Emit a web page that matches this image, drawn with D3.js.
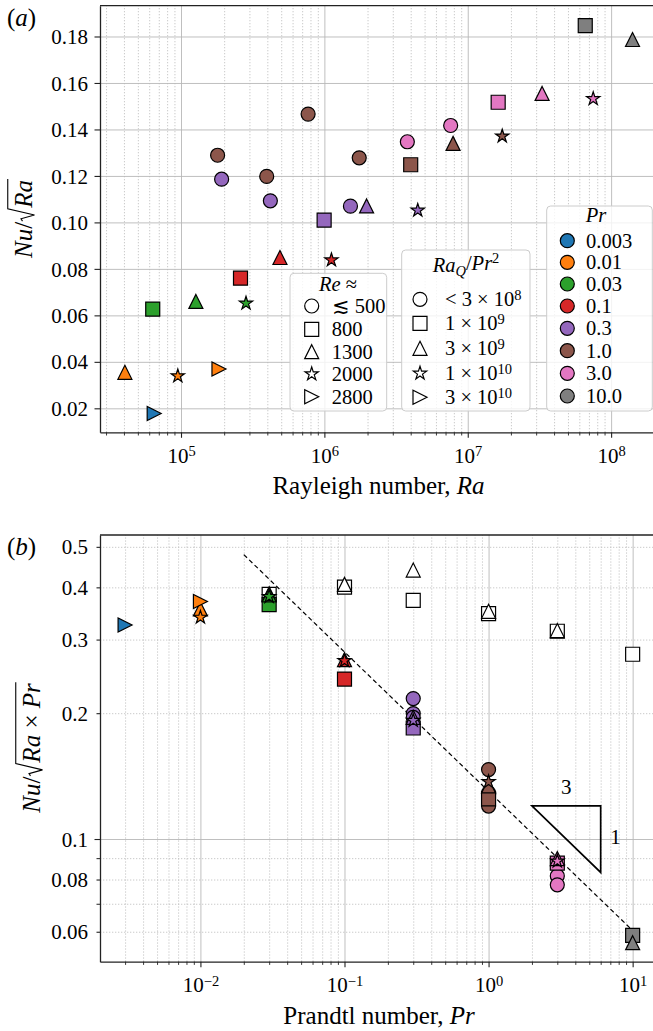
<!DOCTYPE html>
<html><head><meta charset="utf-8">
<script src="https://cdn.jsdelivr.net/npm/d3@7"></script>
<style>
html,body{margin:0;padding:0;background:#fff;}
svg{display:block;}
svg text{white-space:pre;font-family:"Liberation Serif","Times New Roman","DejaVu Serif",serif;}
</style></head><body>
<svg id="fig" width="653" height="1031"></svg>
<script>
// ---------------- data ----------------
const prLevels = [0.003, 0.01, 0.03, 0.1, 0.3, 1.0, 3.0, 10.0];
const prLabels = ["0.003", "0.01", "0.03", "0.1", "0.3", "1.0", "3.0", "10.0"];
const prColors = ["#1f77b4", "#ff7f0e", "#2ca02c", "#d62728", "#9467bd", "#8c564b", "#e377c2", "#7f7f7f"];
const shapeKeys = ["circle", "square", "triangle", "star", "right"];
const reLabels = ["\u2272 500", "800", "1300", "2000", "2800"];
const raqMantissa = ["< 3 \u00d7 10", "1 \u00d7 10", "3 \u00d7 10", "1 \u00d7 10", "3 \u00d7 10"];
const raqExponent = ["8", "9", "9", "10", "10"];

// panel (a): Nu/sqrt(Ra) vs Ra
const aShape = ["circle","circle","circle","circle","circle","circle","circle","circle","circle",
  "square","square","square","square","square","square",
  "triangle","triangle","triangle","triangle","triangle","triangle","triangle",
  "star","star","star","star","star","star",
  "right","right"];
const aPr = [1.0,1.0,0.3,1.0,0.3,1.0,0.3,3.0,3.0,
  0.3,10.0,3.0,1.0,0.1,0.03,
  0.3,10.0,3.0,1.0,0.1,0.03,0.01,
  3.0,1.0,0.3,0.1,0.03,0.01,
  0.01,0.003];
const aRa = [7.7e5,1.8e5,1.92e5,3.96e5,4.2e5,1.75e6,1.52e6,7.6e6,3.79e6,
  9.96e5,6.6e7,1.63e7,4.0e6,2.6e5,6.35e4,
  1.97e6,1.41e8,3.3e7,7.9e6,4.9e5,1.27e5,4.06e4,
  7.5e7,1.74e7,4.48e6,1.12e6,2.84e5,9.5e4,
  1.84e5,6.5e4];
const aNu = [0.1466,0.1289,0.1186,0.1198,0.1093,0.1278,0.1070,0.1417,0.1347,
  0.1010,0.1847,0.1517,0.1248,0.0760,0.0627,
  0.1071,0.1787,0.1555,0.1340,0.0849,0.0660,0.0355,
  0.1532,0.1371,0.1052,0.0838,0.0652,0.0339,
  0.0369,0.0178];

// panel (b): Nu/sqrt(Ra*Pr) vs Pr, filled symbols
const bShape = ["circle","circle","circle","circle","circle","circle","circle","circle","circle",
  "square","square","square","square","square","square",
  "triangle","triangle","triangle","triangle","triangle","triangle","triangle",
  "star","star","star","star","star","star",
  "right","right"];
const bPr = [0.3,0.3,0.3,1.0,1.0,1.0,1.0,3.0,3.0,
  0.3,10.0,3.0,1.0,0.1,0.03,
  0.3,10.0,3.0,1.0,0.1,0.03,0.01,
  3.0,1.0,0.3,0.1,0.03,0.01,
  0.01,0.003];
const bNu = [0.2168,0.1996,0.1954,0.1466,0.1289,0.1199,0.1278,0.0816,0.0777,
  0.1843,0.0588,0.0876,0.1248,0.2414,0.3635,
  0.1955,0.0565,0.0898,0.1340,0.2685,0.3837,0.355,
  0.0885,0.1371,0.1920,0.2670,0.3800,0.339,
  0.3700,0.3250];
// panel (b): open symbols
const oShape = ["square","square","square","square","square","square",
  "triangle","triangle","triangle","triangle","triangle"];
const oPr = [0.03,0.1,0.3,1.0,3.0,10.0, 0.03,0.1,0.3,1.0,3.0];
const oNu = [0.3849,0.4004,0.3724,0.3462,0.3141,0.2767, 0.386,0.4066,0.4400,0.3505,0.3153];
// Pr^(-1/3) guide line and slope triangle
const fitPr = [0.02, 10];
const fitNu = [0.479, 0.0604];
const triPr = [2, 6, 6];
const triNu = [0.12, 0.12, 0.0832];

// tick labels
const aYTicks = [0.02,0.04,0.06,0.08,0.10,0.12,0.14,0.16,0.18];
const aYLabels = ["0.02","0.04","0.06","0.08","0.10","0.12","0.14","0.16","0.18"];
const aXTicks = [1e5,1e6,1e7,1e8];
const aXExp = ["5","6","7","8"];
const bXTicks = [1e-2,1e-1,1e0,1e1];
const bXExp = ["\u22122","\u22121","0","1"];
const bYTicks = [0.06,0.08,0.1,0.2,0.3,0.4,0.5];
const bYLabels = ["0.06","0.08","0.1","0.2","0.3","0.4","0.5"];
const bYMinorOnly = [0.07,0.09];

// ---------------- drawing ----------------
const svg = d3.select("#fig");
const S = 14;
const colorOf = pr => prColors[prLevels.indexOf(pr)];

function markerPath(shape, s) {
  const h = s / 2;
  if (shape === "circle") { const p = d3.path(); p.moveTo(h, 0); p.arc(0, 0, h, 0, 2 * Math.PI); p.closePath(); return p.toString(); }
  if (shape === "square") return `M${-h},${-h}H${h}V${h}H${-h}Z`;
  if (shape === "triangle") return `M0,${-h}L${h},${h}L${-h},${h}Z`;
  if (shape === "right") return `M${h},0L${-h},${h}L${-h},${-h}Z`;
  let d = "";
  for (let i = 0; i < 10; i++) {
    const r = i % 2 ? h * 0.381966 : h;
    const a = -Math.PI / 2 + i * Math.PI / 5;
    d += (i ? "L" : "M") + (r * Math.cos(a)).toFixed(2) + "," + (r * Math.sin(a)).toFixed(2);
  }
  return d + "Z";
}

const A = {l: 100, r: 657, t: 5.7, b: 432.3};
const B = {l: 100, r: 658, t: 535, b: 961.7};
const xA = d3.scaleLog().domain([10 ** 4.435, 10 ** 8.32]).range([A.l, A.r]);
const yA = d3.scaleLinear().domain([0.00968, 0.19325]).range([A.b, A.t]);
const xB = d3.scaleLog().domain([10 ** -2.697, 10 ** 1.176]).range([B.l, B.r]);
const yB = d3.scaleLog().domain([10 ** -1.2935, 10 ** -0.2727]).range([B.b, B.t]);

function minorLog(scale, n0, n1) {
  const [lo, hi] = scale.domain(); const out = [];
  for (let n = n0; n <= n1; n++) for (let d = 2; d <= 9; d++) { const v = d * 10 ** n; if (v > lo * 1.001 && v < hi) out.push(v); }
  return out;
}
const aXMinor = minorLog(xA, 4, 8);
const bXMinor = minorLog(xB, -3, 1);

const MAJ = {stroke: "#b8b8b8", w: 0.9, dash: null};
const MIN = {stroke: "#bdbdbd", w: 0.8, dash: "1.3,1.7"};
function styleGrid(g, st) {
  g.select(".domain").remove();
  g.selectAll(".tick line").attr("stroke", st.stroke).attr("stroke-width", st.w).attr("stroke-dasharray", st.dash);
}
function vgrid(scale, vals, P, st) {
  svg.append("g").attr("transform", `translate(0,${P.b})`)
    .call(d3.axisBottom(scale).tickValues(vals).tickSize(-(P.b - P.t)).tickFormat(""))
    .call(g => styleGrid(g, st));
}
function hgrid(scale, vals, P, st) {
  svg.append("g").attr("transform", `translate(${P.l},0)`)
    .call(d3.axisLeft(scale).tickValues(vals).tickSize(-(P.r - P.l)).tickFormat(""))
    .call(g => styleGrid(g, st));
}

// grids
vgrid(xA, aXMinor, A, MIN); vgrid(xA, aXTicks, A, MAJ); hgrid(yA, aYTicks, A, MAJ);
vgrid(xB, bXMinor, B, MIN); vgrid(xB, bXTicks, B, MAJ);
hgrid(yB, bYTicks.filter(v => v !== 0.1).concat(bYMinorOnly), B, MIN); hgrid(yB, [0.1], B, MAJ);

// guide line & slope triangle (b)
svg.append("path").datum(d3.zip(fitPr, fitNu))
  .attr("d", d3.line().x(d => xB(d[0])).y(d => yB(d[1])))
  .attr("fill", "none").attr("stroke", "#000").attr("stroke-width", 1.2).attr("stroke-dasharray", "4.5,3");
svg.append("path").datum(d3.zip(triPr, triNu))
  .attr("d", d3.line().x(d => xB(d[0])).y(d => yB(d[1])).curve(d3.curveLinearClosed))
  .attr("fill", "none").attr("stroke", "#000").attr("stroke-width", 1.7).attr("stroke-linejoin", "miter");
svg.append("text").attr("x", xB(3.46)).attr("y", yB(0.1334) + 7).attr("text-anchor", "middle").attr("font-size", 21).text("3");
svg.append("text").attr("x", xB(7.6)).attr("y", yB(0.101) + 7).attr("text-anchor", "middle").attr("font-size", 21).text("1");

// markers
function drawMarkers(shapes, xs, ys, fills, xs_, ys_) {
  svg.append("g").selectAll("path").data(d3.range(shapes.length)).join("path")
    .attr("d", i => markerPath(shapes[i], S))
    .attr("transform", i => `translate(${xs_(xs[i])},${ys_(ys[i])})`)
    .attr("fill", i => fills[i]).attr("stroke", "#000").attr("stroke-width", 1.2).attr("stroke-linejoin", "miter");
}
drawMarkers(aShape, aRa, aNu, aPr.map(colorOf), xA, yA);
drawMarkers(oShape, oPr, oNu, oPr.map(() => "#fff"), xB, yB);
drawMarkers(bShape, bPr, bNu, bPr.map(colorOf), xB, yB);

// axes
function styleAxis(g) {
  g.attr("font-size", null).attr("font-family", null);
  g.select(".domain").attr("stroke", "#222").attr("stroke-width", 1.3);
  g.selectAll(".tick line").attr("stroke", "#222").attr("stroke-width", 1.1);
}
function bottomAxis(scale, P, vals, exps, minors) {
  svg.append("g").attr("transform", `translate(0,${P.b})`)
    .call(d3.axisBottom(scale).tickValues(minors).tickSize(3.2).tickFormat(""))
    .call(g => { g.select(".domain").remove(); g.selectAll(".tick line").attr("stroke", "#222").attr("stroke-width", 0.9); g.selectAll("text").remove(); });
  const g = svg.append("g").attr("transform", `translate(0,${P.b})`)
    .call(d3.axisBottom(scale).tickValues(vals).tickSize(5.5).tickSizeOuter(0).tickFormat(""));
  styleAxis(g);
  g.selectAll(".tick text").each(function (d, i) {
    const t = d3.select(this).attr("y", 30.7).attr("dy", null).attr("font-size", 21).attr("fill", "#000").attr("text-anchor", "middle");
    t.append("tspan").text("10");
    t.append("tspan").attr("dy", "-0.45em").attr("font-size", "14.5px").text(exps[i]);
  });
  svg.append("line").attr("x1", P.l).attr("x2", P.r).attr("y1", P.t).attr("y2", P.t).attr("stroke", "#222").attr("stroke-width", 1.3);
}
function leftAxis(scale, P, vals, labels, sizes, extraMinor) {
  if (extraMinor) {
    svg.append("g").attr("transform", `translate(${P.l},0)`)
      .call(d3.axisLeft(scale).tickValues(extraMinor).tickSize(3.5).tickFormat(""))
      .call(g => { g.select(".domain").remove(); g.selectAll(".tick line").attr("stroke", "#222").attr("stroke-width", 1.0); g.selectAll("text").remove(); });
  }
  const g = svg.append("g").attr("transform", `translate(${P.l},0)`)
    .call(d3.axisLeft(scale).tickValues(vals).tickSize(5.5).tickSizeOuter(0).tickFormat((d, i) => labels[i]));
  styleAxis(g);
  g.selectAll(".tick line").attr("x2", (d, i) => -sizes[i]);
  g.selectAll(".tick text").attr("x", -12).attr("dy", "0.34em").attr("font-size", 21).attr("fill", "#000");
}
bottomAxis(xA, A, aXTicks, aXExp, aXMinor);
leftAxis(yA, A, aYTicks, aYLabels, aYTicks.map(() => 5.5));
bottomAxis(xB, B, bXTicks, bXExp, bXMinor);
leftAxis(yB, B, bYTicks, bYLabels, bYTicks.map(v => v === 0.1 ? 5.5 : 3.5), bYMinorOnly);

// axis labels
function richText(x, y, parts, fs, anchor) {
  const t = svg.append("text").attr("x", x).attr("y", y).attr("font-size", fs).attr("text-anchor", anchor || "middle");
  parts.forEach(p => {
    const s = t.append("tspan").text(p.t).attr("font-style", p.it ? "italic" : "normal");
    if (p.dy) s.attr("dy", p.dy);
    if (p.fs) s.attr("font-size", p.fs);
  });
  return t;
}
richText(378.5, 494.3, [{t: "Rayleigh number, "}, {t: "Ra", it: true}], 25);
richText(379, 1023.7, [{t: "Prandtl number, "}, {t: "Pr", it: true}], 25);
richText(7, 26, [{t: "("}, {t: "a", it: true}, {t: ")"}], 25, "start");
richText(7, 555, [{t: "("}, {t: "b", it: true}, {t: ")"}], 25, "start");

function yLabel(cx, cy, parts, fs) {
  const g = svg.append("g").attr("transform", `translate(${cx},${cy}) rotate(-90)`);
  const inner = g.append("g");
  let x = 0, radX = 0, overEnd = 0;
  parts.forEach(p => {
    if (p.rad) { radX = x; x += 0.56 * fs; return; }
    if (p.gap) { x += p.gap * fs; return; }
    const t = inner.append("text").attr("x", x).attr("y", 0).attr("font-size", fs)
      .attr("font-style", p.it ? "italic" : "normal").text(p.t);
    const w = t.node().getComputedTextLength();
    x += w;
    if (p.over) overEnd = x + 0.04 * fs;
  });
  const top = -0.95 * fs;
  inner.append("path")
    .attr("d", `M${radX + 0.03 * fs},${-0.36 * fs}L${radX + 0.12 * fs},${-0.42 * fs}L${radX + 0.27 * fs},${0.12 * fs}L${radX + 0.52 * fs},${top}H${overEnd}`)
    .attr("fill", "none").attr("stroke", "#000").attr("stroke-width", 1.1).attr("stroke-linejoin", "miter");
  inner.attr("transform", `translate(${-x / 2},0)`);
}
yLabel(31.5, 219, [{t: "Nu", it: true}, {t: "/"}, {rad: true}, {t: "Ra", it: true, over: true}], 25);
yLabel(39.5, 748, [{t: "Nu", it: true}, {t: "/"}, {rad: true}, {t: "Ra", it: true, over: true}, {gap: 0.25}, {t: "\u00d7", over: true}, {gap: 0.25}, {t: "Pr", it: true, over: true}], 25);

// legends
function legendBox(x0, y0, x1, y1) {
  svg.append("rect").attr("x", x0).attr("y", y0).attr("width", x1 - x0).attr("height", y1 - y0).attr("rx", 4)
    .attr("fill", "#fff").attr("fill-opacity", 0.8).attr("stroke", "#cccccc").attr("stroke-width", 1);
}
const LFS = 20.5;
// Re legend
legendBox(290, 273.3, 386.7, 411);
richText(338, 290.7, [{t: "Re", it: true}, {t: " \u2248"}], LFS);
const reRows = [306, 329.3, 351.7, 374, 396.7];
shapeKeys.forEach((s, i) => {
  svg.append("path").attr("d", markerPath(s, S)).attr("transform", `translate(311.7,${reRows[i]})`).attr("fill", "#fff").attr("stroke", "#000").attr("stroke-width", 1.2);
  richText(331.7, reRows[i] + 7, [{t: reLabels[i]}], LFS, "start");
});
// RaQ/Pr^2 legend
legendBox(401.7, 250, 530, 411);
richText(466, 271.7, [{t: "Ra", it: true}, {t: "Q", it: true, fs: "14.5px", dy: "0.3em"}, {t: "/", dy: "-0.3em"}, {t: "Pr", it: true}, {t: "2", fs: "14.5px", dy: "-0.45em"}], LFS);
const raqRows = [299.3, 323.3, 348.3, 373.3, 397.3];
shapeKeys.forEach((s, i) => {
  svg.append("path").attr("d", markerPath(s, S)).attr("transform", `translate(420,${raqRows[i]})`).attr("fill", "#fff").attr("stroke", "#000").attr("stroke-width", 1.2);
  richText(445, raqRows[i] + 7, [{t: raqMantissa[i]}, {t: raqExponent[i], fs: "14.5px", dy: "-0.45em"}], LFS, "start");
});
// Pr legend
legendBox(546.7, 206, 652.3, 411);
richText(596, 221.7, [{t: "Pr", it: true}], LFS);
const prRows = [240.7, 262.3, 284, 306, 328.3, 350.7, 373.3, 396];
prLevels.forEach((p, i) => {
  svg.append("path").attr("d", markerPath("circle", S)).attr("transform", `translate(567.3,${prRows[i]})`).attr("fill", prColors[i]).attr("stroke", "#000").attr("stroke-width", 1.2);
  richText(586, prRows[i] + 7, [{t: prLabels[i]}], LFS, "start");
});
</script>
</body></html>
